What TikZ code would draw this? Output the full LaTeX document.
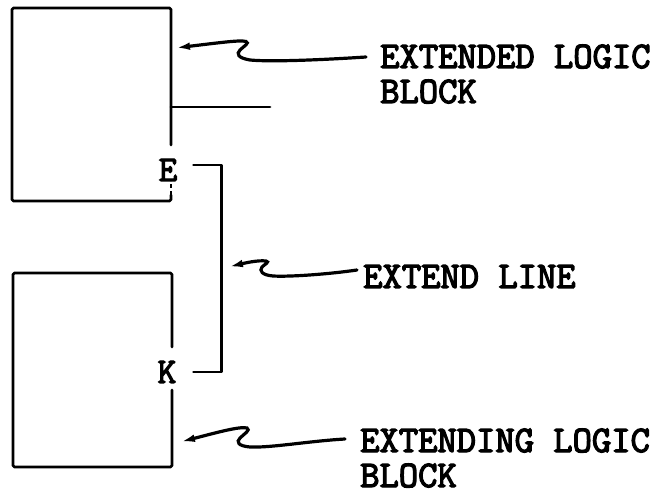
\documentclass[tikz,border=0pt]{standalone}
\usepackage{fontspec}
\newfontfamily\typewr{Latin Modern Mono}[FakeBold=3.5]
\usetikzlibrary{arrows.meta}
\begin{document}
\begin{tikzpicture}[x=1pt,y=-1pt,
  box/.style={line width=2.8pt, line cap=round, line join=round, rounded corners=1.5pt},
  pointer/.style={line width=3.2pt, line cap=round, -{Latex[length=15pt,width=7.5pt]}},
  lbl/.style={font=\typewr\fontsize{37.5}{35}\selectfont, align=left, inner sep=0pt, anchor=base west},
  pinlbl/.style={font=\typewr\fontsize{36}{36}\selectfont, inner sep=0pt}]
\useasboundingbox[fill=white] (0,0) rectangle (664,494);

% pin labels
\node[pinlbl] (E) at (168,170) {E};
\node[pinlbl] (K) at (167,372) {K};

% top block (extended)
\draw[box] (171,145) -- (171,8) -- (12,8) -- (12,201) -- (171,201) -- (171,195);
\draw[line width=2.8pt, dash pattern=on 4pt off 3pt] (171,195) -- (171,181);
\coordinate (stubA) at (171,107);
\coordinate (stubB) at (270,107);
\draw[box] (stubA) -- (stubB);

% bottom block (extending)
\draw[box] (172,347) -- (172,273) -- (13,273) -- (13,467) -- (172,467) -- (172,390);

% extend line bracket
\draw[box, rounded corners=0pt] ([xshift=16pt,yshift=5pt]E.east) -- ++(28,0) |- ([xshift=17pt]K.east);

% labels (base = baseline of last line)
\node[lbl] (ext) at (380,103) {EXTENDED LOGIC\\BLOCK};
\node[lbl] (eline) at (363,288) {EXTEND LINE};
\node[lbl] (exting) at (360,487) {EXTENDING LOGIC\\BLOCK};

% pointer tips
\coordinate (tip1) at (175,48);
\coordinate (tip2) at (228,267);
\coordinate (tip3) at (180,442);

% pointers
\draw[pointer] ([xshift=-14pt,yshift=46pt]ext.base west)
  .. controls (320,60) and (270,62) .. (250,60)
  .. controls (238,58) and (236,54) .. (240,50)
  .. controls (244,46) and (250,43) .. (246,41.5)
  .. controls (240,40) and (225,42) .. (tip1);
\draw[pointer] ([xshift=-6pt,yshift=18pt]eline.base west)
  .. controls (330,274) and (290,277) .. (273,276)
  .. controls (262,275) and (259,271) .. (262,267)
  .. controls (265,264) and (270,262) .. (266,261)
  .. controls (258,260) and (245,263) .. (tip2);
\draw[pointer] ([xshift=-15pt,yshift=48pt]exting.base west)
  .. controls (310,441) and (270,448) .. (250,447)
  .. controls (238,446) and (236,442) .. (240,438)
  .. controls (244,434) and (251,430) .. (247,428)
  .. controls (240,426) and (215,433) .. (tip3);
\end{tikzpicture}
\end{document}
